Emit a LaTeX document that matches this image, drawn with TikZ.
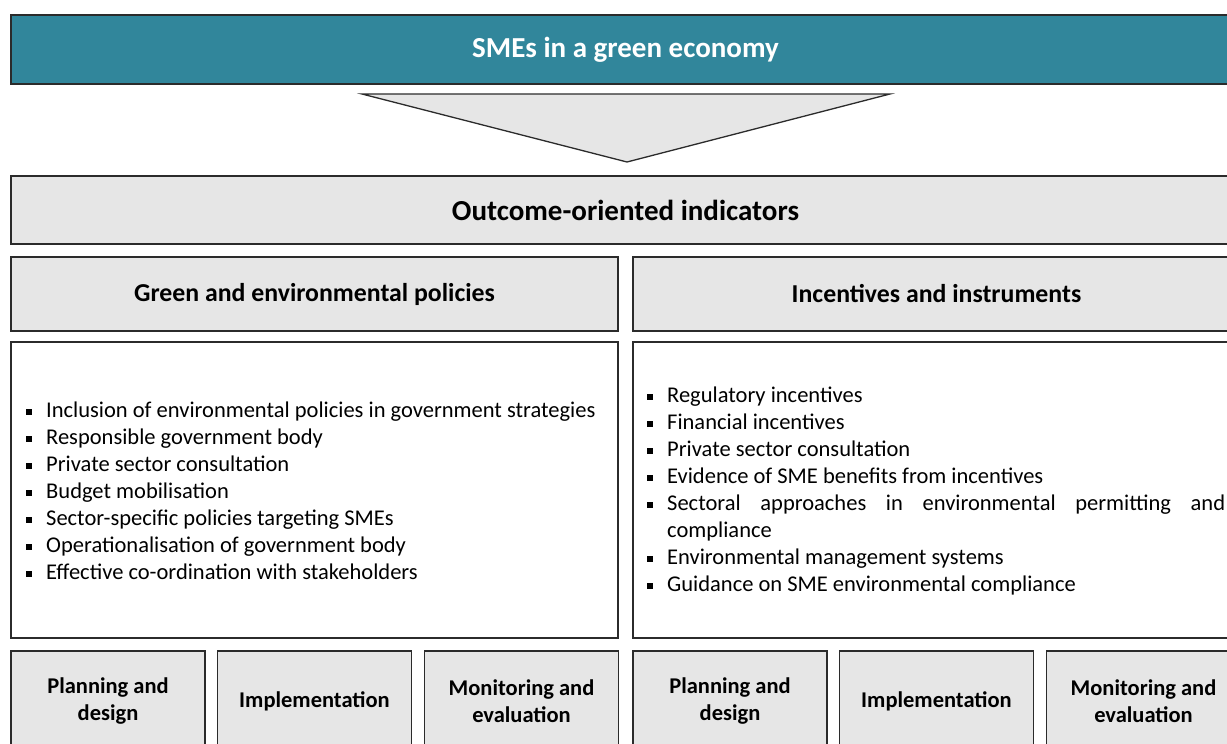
\documentclass[tikz,border=0pt]{standalone}
\usepackage{fontspec}
\setmainfont{Carlito}
\usetikzlibrary{positioning}
\definecolor{smeteal}{HTML}{31869B}
\definecolor{boxgrey}{HTML}{E6E6E6}
\definecolor{edgegrey}{HTML}{2B2B2B}
\hyphenpenalty=10000
\exhyphenpenalty=10000
\newcommand{\sqbullet}{\raisebox{0.25ex}{\rule{5.5pt}{5.5pt}}}
\newenvironment{indlist}{\begin{list}{\sqbullet}{%
    \setlength\leftmargin{20pt}\setlength\labelwidth{5.5pt}%
    \setlength\labelsep{14.5pt}\setlength\itemsep{0pt}%
    \setlength\parsep{0pt}\setlength\topsep{0pt}\setlength\partopsep{0pt}}}%
  {\end{list}}

\begin{document}
\begin{tikzpicture}[x=1pt, y=-1pt,
    box/.style={draw=edgegrey, line width=1.3pt, fill=boxgrey, inner sep=0pt, align=center},
    headbox/.style={box, minimum width=1229pt, font=\bfseries\fontsize{29}{35}\selectfont},
    colbox/.style={box, minimum width=607pt, minimum height=74pt, font=\bfseries\fontsize{25.8}{31}\selectfont},
    listbox/.style={draw=edgegrey, line width=1.3pt, fill=white, minimum width=607pt, minimum height=296pt},
    listtxt/.style={anchor=west, inner sep=0pt, align=justify, font=\fontsize{22.5}{27}\selectfont},
    stagebox/.style={box, minimum width=194pt, minimum height=100pt, font=\bfseries\fontsize{22.5}{27}\selectfont}
]
    \useasboundingbox (0,0) rectangle (1227,744);
    \clip (0,0) rectangle (1227,744);

    \node[headbox, fill=smeteal, text=white, minimum height=69pt] (smes) at (625.5,49.5) {SMEs in a green economy};
    \draw[draw=edgegrey, line width=1.3pt, fill=boxgrey] (362,94) -- (890,94) -- (627,162) -- cycle;
    \node[headbox, minimum height=68pt] (outcome) at (625.5,210) {Outcome-oriented indicators};

    \node[colbox] (policies) at (314.5,294) {Green and environmental policies};
    \node[colbox] (incentives) at (936.5,294) {Incentives and instruments};

    \node[listbox] (polbox) at (314.5,490) {};
    \node[listbox] (incbox) at (936.5,490) {};
    \node[listtxt, text width=590pt] (pollist) at (26,485) {%
        \begin{indlist}
        \item Inclusion of environmental policies in government strategies
        \item Responsible government body
        \item Private sector consultation
        \item Budget mobilisation
        \item Sector-specific policies targeting SMEs
        \item Operationalisation of government body
        \item Effective co-ordination with stakeholders
        \end{indlist}};
    \node[listtxt, text width=578pt] (inclist) at (647,485) {%
        \begin{indlist}
        \item Regulatory incentives
        \item Financial incentives
        \item Private sector consultation
        \item Evidence of SME benefits from incentives
        \item Sectoral approaches in environmental permitting and compliance
        \item Environmental management systems
        \item Guidance on SME environmental compliance
        \end{indlist}};

    \node[stagebox] (planL) at (108,701) {Planning and\\design};
    \node[stagebox] (implL) at (314.5,701) {Implementation};
    \node[stagebox] (monL) at (521.5,701) {Monitoring and\\evaluation};
    \node[stagebox] (planR) at (730,701) {Planning and\\design};
    \node[stagebox] (implR) at (936.5,701) {Implementation};
    \node[stagebox] (monR) at (1143.5,701) {Monitoring and\\evaluation};
\end{tikzpicture}
\end{document}
